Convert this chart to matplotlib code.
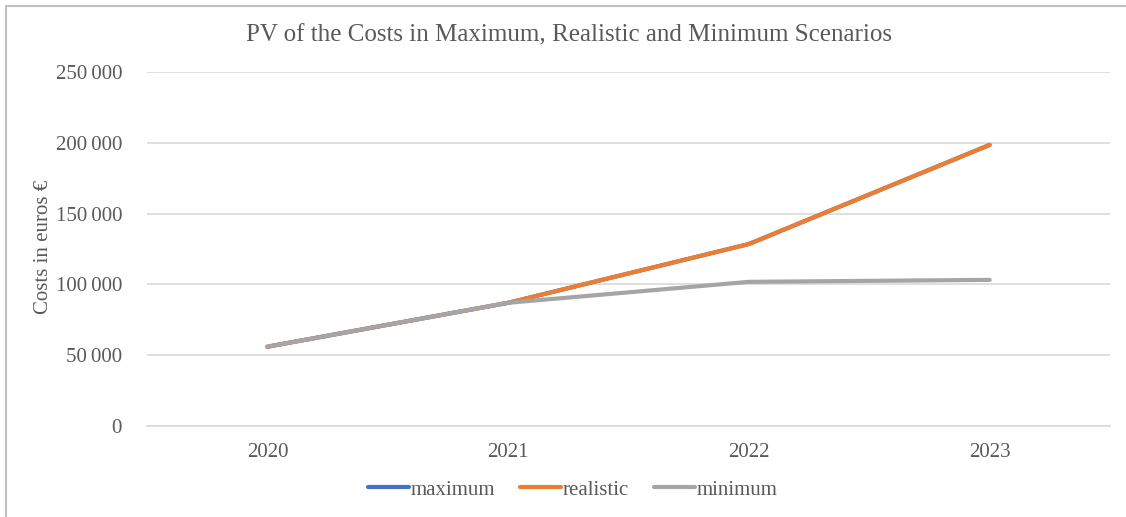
import matplotlib
matplotlib.use("Agg")
import matplotlib.pyplot as plt
from matplotlib.patches import Rectangle
from matplotlib.ticker import FuncFormatter

years = ["2020", "2021", "2022", "2023"]
maximum = [56000, 87000, 128500, 198500]
realistic = [56000, 87000, 128500, 198500]
minimum = [56000, 87000, 101800, 103200]
yticks = [0, 50000, 100000, 150000, 200000, 250000]

plt.rcParams['font.family'] = ['Liberation Serif', 'DejaVu Serif']
txt = '#595959'

fig = plt.figure(figsize=(11.26, 5.17), dpi=100)
ax = fig.add_axes([147/1126, 1-426/517, (1110-147)/1126, (426-72)/517])

x = list(range(len(years)))
ax.plot(x, maximum, color='#4472C4', lw=3, solid_capstyle='round', label='maximum')
ax.plot(x, realistic, color='#ED7D31', lw=3, solid_capstyle='round', label='realistic')
ax.plot(x, minimum, color='#A5A5A5', lw=3, solid_capstyle='round', label='minimum')

ax.set_xlim(-0.5, len(years) - 0.5)
ax.set_ylim(0, 250000)
ax.set_yticks(yticks)
ax.yaxis.set_major_formatter(FuncFormatter(lambda v, p: f"{int(v):,}".replace(",", "\u2009")))
ax.set_xticks(x)
ax.set_xticklabels(years)
ax.grid(axis='y', color='#d9d9d9', lw=1.2)
ax.set_axisbelow(True)
for s in ['top', 'right', 'left']:
    ax.spines[s].set_visible(False)
ax.spines['bottom'].set_color('#d9d9d9')
ax.spines['bottom'].set_linewidth(1.2)
ax.tick_params(axis='both', length=0, labelsize=15, colors=txt)
ax.tick_params(axis='y', pad=18)
ax.tick_params(axis='x', pad=12)

fig.text(43/1126, 1-247/517, "Costs in euros €", rotation=90, ha='center', va='center',
         fontsize=15, color=txt)
fig.text(0.505, 1-35/517, "PV of the Costs in Maximum, Realistic and Minimum Scenarios",
         ha='center', va='center', fontsize=18, color=txt)

leg = fig.legend(loc='center', bbox_to_anchor=(573/1126, 1-490/517), ncol=3, frameon=False,
                 fontsize=15, handlelength=1.95, handletextpad=0.1, columnspacing=1.2)
for t in leg.get_texts():
    t.set_color(txt)
for h in leg.get_lines():
    h.set_solid_capstyle('round')

fig.patches.append(Rectangle((6/1126, -0.05), 1.1, 1-6/517+0.05, transform=fig.transFigure,
                             fill=False, edgecolor='#bfbfbf', lw=1.5))

fig.savefig("out.png", dpi=100)
